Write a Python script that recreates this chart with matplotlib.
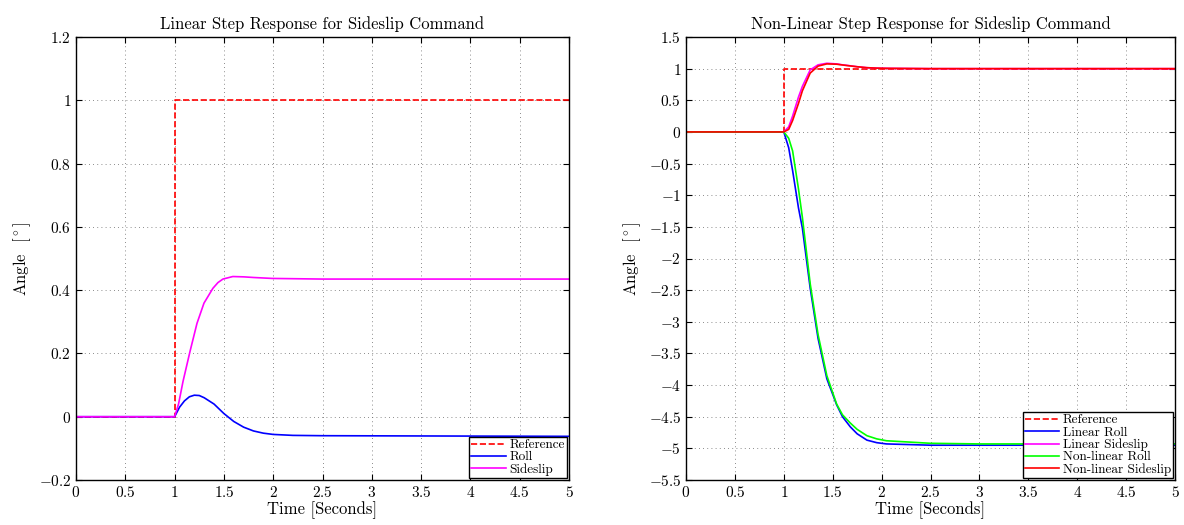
import numpy as np
import matplotlib
matplotlib.use("Agg")
import matplotlib.pyplot as plt

plt.rcParams['font.family'] = ['cmr10', 'DejaVu Serif']
plt.rcParams['mathtext.fontset'] = 'cm'
plt.rcParams['axes.formatter.use_mathtext'] = True

# reference step
t_ref = [0, 1, 1, 5]
y_ref = [0, 0, 1, 1]

# left: linear response
t_lin_beta = [0, 1.0, 1.04, 1.085, 1.156, 1.227, 1.298, 1.389, 1.44, 1.49, 1.59, 1.7, 1.8, 1.99, 2.5, 5]
lin_beta = [0, 0, 0.04, 0.111, 0.206, 0.295, 0.359, 0.406, 0.424, 0.435, 0.443, 0.442, 0.440, 0.437, 0.435, 0.435]
t_lin_roll = [0, 1.0, 1.05, 1.1, 1.15, 1.2, 1.25, 1.3, 1.4, 1.5, 1.6, 1.7, 1.8, 1.9, 2.0, 2.2, 2.5, 5]
lin_roll = [0, 0, 0.03, 0.05, 0.063, 0.068, 0.067, 0.06, 0.04, 0.01, -0.015, -0.033, -0.045, -0.052, -0.056, -0.059, -0.06, -0.062]

# right: linear vs non-linear
t_r = [0, 1.0, 1.05, 1.09, 1.15, 1.19, 1.27, 1.35, 1.44, 1.54, 1.6, 1.68, 1.75, 1.85, 1.95, 2.05, 2.5, 3, 5]
roll_lin = [0, 0, -0.25, -0.61, -1.2, -1.52, -2.47, -3.26, -3.9, -4.31, -4.5, -4.66, -4.77, -4.87, -4.91, -4.93, -4.95, -4.95, -4.95]
roll_nl = [0, 0, -0.1, -0.3, -0.9, -1.35, -2.4, -3.2, -3.85, -4.3, -4.47, -4.6, -4.7, -4.8, -4.85, -4.88, -4.92, -4.93, -4.93]
beta_lin = [0, 0, 0.08, 0.25, 0.55, 0.72, 0.98, 1.06, 1.085, 1.075, 1.06, 1.045, 1.03, 1.015, 1.008, 1.005, 1.0, 1.0, 1.0]
beta_nl = [0, 0, 0.04, 0.18, 0.45, 0.65, 0.93, 1.04, 1.075, 1.07, 1.058, 1.043, 1.03, 1.015, 1.008, 1.005, 1.0, 1.0, 1.0]

x_ticks = np.arange(0, 5.01, 0.5)


def tick_text(v):
    return '$%g$' % round(v, 2)


fig = plt.figure(figsize=(11.84, 5.25), dpi=100)
ax1 = fig.add_axes([76 / 1184, 45 / 525, 493 / 1184, 443 / 525])
ax2 = fig.add_axes([686 / 1184, 45 / 525, 489 / 1184, 443 / 525])

ax1.plot(t_ref, y_ref, '--', color='red', lw=1.2, label='Reference')
ax1.plot(t_lin_roll, lin_roll, color='blue', lw=1.2, label='Roll')
ax1.plot(t_lin_beta, lin_beta, color='magenta', lw=1.2, label='Sideslip')
ax1.set_xlim(0, 5)
ax1.set_ylim(-0.2, 1.2)
yt1 = np.arange(-0.2, 1.21, 0.2)
ax1.set_yticks(yt1)
ax1.set_yticklabels([tick_text(v) for v in yt1])
ax1.set_title('Linear Step Response for Sideslip Command', fontsize=12)

ax2.plot(t_ref, y_ref, '--', color='red', lw=1.2, label='Reference')
ax2.plot(t_r, roll_lin, color='blue', lw=1.2, label='Linear Roll')
ax2.plot(t_r, beta_lin, color='magenta', lw=1.2, label='Linear Sideslip')
ax2.plot(t_r, roll_nl, color='lime', lw=1.2, label='Non-linear Roll')
ax2.plot(t_r, beta_nl, color='red', lw=1.2, label='Non-linear Sideslip')
ax2.set_xlim(0, 5)
ax2.set_ylim(-5.5, 1.5)
yt2 = np.arange(-5.5, 1.51, 0.5)
ax2.set_yticks(yt2)
ax2.set_yticklabels([tick_text(v) for v in yt2])
ax2.set_title('Non-Linear Step Response for Sideslip Command', fontsize=12)

for ax in (ax1, ax2):
    ax.set_xticks(x_ticks)
    ax.set_xticklabels([tick_text(v) for v in x_ticks])
    ax.set_xlabel('Time [Seconds]', fontsize=12, labelpad=1)
    ax.set_ylabel(r'Angle  [$^\circ$]', fontsize=12)
    ax.grid(True, linestyle=(0, (1, 4)), color='0.4', lw=0.6)
    ax.tick_params(direction='in', top=True, right=True, labelsize=11, length=4)
    for s in ax.spines.values():
        s.set_linewidth(1.0)
    leg = ax.legend(loc='lower right', fontsize=9.5, fancybox=False, framealpha=1,
                    edgecolor='black', borderpad=0.15, labelspacing=0.0,
                    handlelength=2.6, handletextpad=0.3, borderaxespad=0.15)
    leg.get_frame().set_linewidth(1.0)

fig.savefig('out.png', dpi=100)
